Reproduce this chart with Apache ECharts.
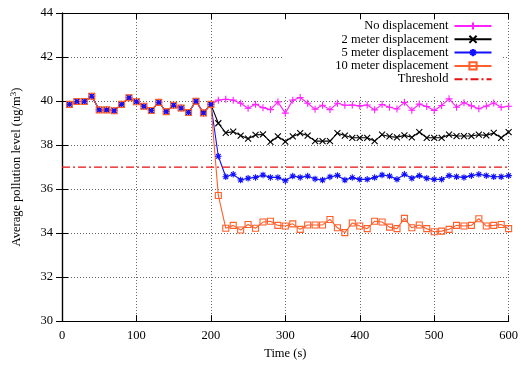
<!DOCTYPE html>
<html>
<head>
<meta charset="utf-8">
<script src="https://cdn.jsdelivr.net/npm/echarts@6/dist/echarts.min.js"></script>
<style>html,body{margin:0;padding:0;background:#fff}#c{width:521px;height:365px}</style>
</head>
<body>
<div id="c"></div>
<script>
var times = [10,20,30,40,50,60,70,80,90,100,110,120,130,140,150,160,170,180,190,200,
  210,220,230,240,250,260,270,280,290,300,310,320,330,340,350,360,370,380,390,400,
  410,420,430,440,450,460,470,480,490,500,510,520,530,540,550,560,570,580,590,600];
var preValues = [39.85,39.98,39.98,40.22,39.6,39.6,39.56,39.85,40.15,39.97,39.76,39.57,39.94,39.52,39.81,39.68,39.48,39.99,39.46,39.85];
var noDispPost = [40.04,40.08,40.04,39.9,39.67,39.85,39.7,39.61,39.96,39.45,40.04,40.16,39.9,39.63,39.81,39.61,39.9,39.81,39.82,39.78,
  39.82,39.6,39.84,39.72,39.64,39.94,39.58,39.86,39.75,39.57,39.8,40.1,39.72,39.92,39.78,39.65,39.77,39.91,39.72,39.76];
var twoMPost = [38.99,38.55,38.61,38.43,38.29,38.46,38.48,38.14,38.39,38.16,38.39,38.54,38.43,38.18,38.18,38.18,38.54,38.43,38.33,38.33,
  38.33,38.18,38.47,38.39,38.35,38.44,38.35,38.59,38.33,38.33,38.33,38.47,38.41,38.41,38.41,38.47,38.44,38.55,38.33,38.59];
var fiveMPost = [37.49,36.56,36.67,36.41,36.49,36.53,36.64,36.53,36.53,36.38,36.59,36.53,36.59,36.46,36.41,36.55,36.62,36.41,36.52,36.44,
  36.44,36.52,36.64,36.59,36.44,36.67,36.49,36.61,36.49,36.44,36.44,36.61,36.56,36.53,36.61,36.67,36.61,36.56,36.56,36.61];
var tenMPost = [35.71,34.22,34.35,34.14,34.39,34.22,34.5,34.54,34.35,34.32,34.42,34.17,34.37,34.37,34.37,34.62,34.24,34.02,34.46,34.32,
  34.2,34.54,34.5,34.27,34.2,34.67,34.24,34.37,34.2,34.06,34.09,34.17,34.35,34.32,34.35,34.65,34.32,34.35,34.39,34.2];
var thresholdValue = 37;
var seriesNames = ['No displacement','2 meter displacement','5 meter displacement','10 meter displacement','Threshold'];
var xTicks = {min:0, max:600, interval:100};
var yTicks = {min:30, max:44, interval:2};

function pairs(post){
  var vals = preValues.concat(post);
  return times.map(function(t,i){return [t, vals[i]];});
}
var FONT = 'Liberation Serif';
var SYM = {
  plus: 'path://M0,5L10,5M5,0L5,10',
  cross: 'path://M0,0L10,10M10,0L0,10',
  star: 'path://M0,5L10,5M5,0L5,10M1.5,1.5L8.5,8.5M8.5,1.5L1.5,8.5',
  square: 'path://M0,0L10,0L10,10L0,10Z'
};
function lineSeries(name, data, color, sym, size, fillColor){
  return {
    name: name, type: 'line', data: data, xAxisIndex: 0, yAxisIndex: 0,
    symbol: sym, symbolSize: size, showAllSymbol: true,
    lineStyle: {color: color, width: 1.1},
    itemStyle: {color: fillColor || color, borderColor: color, borderWidth: 1.1},
    emphasis: {disabled: true}, animation: false
  };
}
var chart = echarts.init(document.getElementById('c'), null, {renderer:'canvas'});
var axisCommon = {
  type: 'value',
  axisLine: {show: true, lineStyle: {color: '#000', width: 1.2}},
  axisTick: {show: true, inside: true, length: 6, lineStyle: {color: '#000'}},
  axisLabel: {color: '#000', fontFamily: FONT, fontSize: 12.5},
  splitLine: {show: false}
};
chart.setOption({
  backgroundColor: '#fff',
  animation: false,
  grid: {left: 62, right: 11.5, top: 13, bottom: 41, containLabel: false},
  xAxis: [
    Object.assign({}, axisCommon, {
      position: 'bottom', min: xTicks.min, max: xTicks.max, interval: xTicks.interval,
      name: 'Time (s)', nameLocation: 'middle', nameGap: 25,
      nameTextStyle: {color: '#000', fontFamily: FONT, fontSize: 12.5},
      axisLabel: {color: '#000', fontFamily: FONT, fontSize: 12.5, margin: 8},
      splitLine: {show: true, lineStyle: {color: '#666', type: [1,2], width: 1}}
    }),
    Object.assign({}, axisCommon, {
      position: 'top', min: xTicks.min, max: xTicks.max, interval: xTicks.interval,
      axisLabel: {show: false}
    })
  ],
  yAxis: [
    Object.assign({}, axisCommon, {
      position: 'left', min: yTicks.min, max: yTicks.max, interval: yTicks.interval,
      name: 'Average pollution level (ug/m{sup|3})', nameLocation: 'middle', nameGap: 38,
      nameTextStyle: {color: '#000', fontFamily: FONT, fontSize: 12.5,
        rich: {sup: {fontFamily: FONT, fontSize: 9, verticalAlign: 'top', padding: [0,0,6,0], color: '#000'}}},
      axisLabel: {color: '#000', fontFamily: FONT, fontSize: 12.5, margin: 9},
      splitLine: {show: true, lineStyle: {color: '#666', type: [1,2], width: 1}}
    }),
    Object.assign({}, axisCommon, {
      position: 'right', min: yTicks.min, max: yTicks.max, interval: yTicks.interval,
      axisLabel: {show: false}
    })
  ],
  graphic: [{
    type: 'rect', z: 1, silent: true,
    shape: {x: 283, y: 19.5, width: 220, height: 76},
    style: {fill: '#fff'}
  }],
  legend: {
    orient: 'vertical', right: 23.5, top: 14.5, align: 'right',
    itemWidth: 37, itemHeight: 9, itemGap: 0.3,
    textStyle: {color: '#000', fontFamily: FONT, fontSize: 12.5, lineHeight: 13, padding: [0,1,0,0]},
    data: [seriesNames[0], seriesNames[1], seriesNames[2], seriesNames[3],
      {name: seriesNames[4], itemStyle: {opacity: 0}}],
    selectedMode: false
  },
  series: [
    lineSeries(seriesNames[0], pairs(noDispPost), '#ff22ff', SYM.plus, 7),
    lineSeries(seriesNames[1], pairs(twoMPost), '#000000', SYM.cross, 6),
    lineSeries(seriesNames[2], pairs(fiveMPost), '#1010ff', SYM.star, 6.5),
    lineSeries(seriesNames[3], pairs(tenMPost), '#ff5f2a', SYM.square, 6, 'rgba(0,0,0,0)'),
    {
      name: seriesNames[4], type: 'line', symbol: 'none',
      data: [[xTicks.min, thresholdValue], [xTicks.max, thresholdValue]],
      lineStyle: {color: '#e81010', width: 1.2, type: [8,3,2,3]},
      itemStyle: {color: '#e81010'},
      emphasis: {disabled: true}, animation: false
    }
  ]
});
</script>
</body>
</html>
